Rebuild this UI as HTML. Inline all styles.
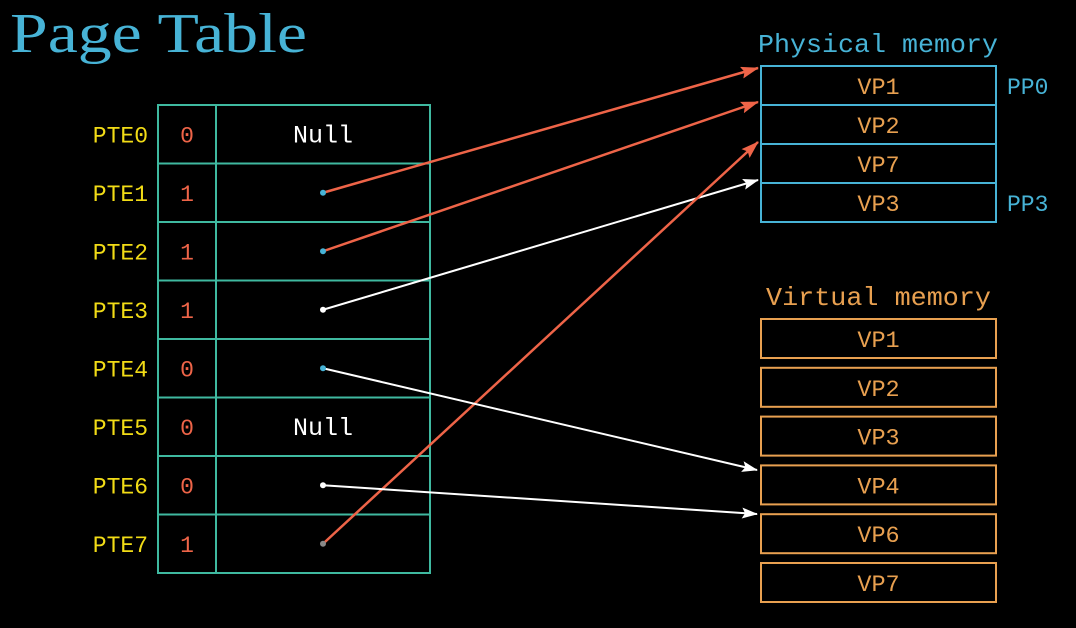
<!DOCTYPE html>
<html><head><meta charset="utf-8"><style>
html,body{margin:0;padding:0;background:#000;width:1076px;height:628px;overflow:hidden}
svg text{font-family:"Liberation Mono",monospace}
</style></head><body>
<svg id="s" width="1076" height="628" viewBox="0 0 1076 628">
<defs>
<marker id="ar" markerWidth="18" markerHeight="12" refX="17" refY="6" orient="auto" markerUnits="userSpaceOnUse" viewBox="0 0 18 12"><path d="M0,0 L18,6 L0,12 L3,6 Z" fill="#ee6448"/></marker>
<marker id="aw" markerWidth="16" markerHeight="11" refX="15" refY="5.5" orient="auto" markerUnits="userSpaceOnUse" viewBox="0 0 16 11"><path d="M0,0 L16,5.5 L0,11 L3,5.5 Z" fill="#fff"/></marker>
</defs>
<text x="10" y="52" font-size="56" fill="#47b3d6" textLength="297" lengthAdjust="spacingAndGlyphs" style="font-family:'Liberation Serif',serif">Page Table</text>
<g id="tbl"></g>
<g id="phys"></g>
<g id="virt"></g>
<g id="arrows"></g>
</svg>
<script>
const pteLabels=["PTE0","PTE1","PTE2","PTE3","PTE4","PTE5","PTE6","PTE7"];
const validBits=[0,1,1,1,0,0,0,1];
const nullRows=[0,5];
const physPages=["VP1","VP2","VP7","VP3"];
const virtPages=["VP1","VP2","VP3","VP4","VP6","VP7"];
const physTargets=[[1,0],[2,1],[3,3],[7,2]];
const virtTargets=[[4,3],[6,4]];
const NS="http://www.w3.org/2000/svg";
function mk(p,t,a,txt){const e=document.createElementNS(NS,t);for(const k in a)e.setAttribute(k,a[k]);if(txt!==undefined)e.textContent=txt;p.appendChild(e);return e;}
const T=document.getElementById('tbl'),P=document.getElementById('phys'),V=document.getElementById('virt'),A=document.getElementById('arrows');
const tx0=158,tx1=216,tx2=430,ty0=105,rh=58.5;
const rowY=i=>ty0+i*rh;
const teal="#3fb9a0";
mk(T,'rect',{x:tx0,y:ty0,width:tx2-tx0,height:rh*8,fill:'none',stroke:teal,'stroke-width':2});
mk(T,'line',{x1:tx1,y1:ty0,x2:tx1,y2:ty0+rh*8,stroke:teal,'stroke-width':2});
pteLabels.forEach((l,i)=>{
  const cy=rowY(i)+rh/2;
  if(i>0){mk(T,'line',{x1:tx0,y1:rowY(i),x2:tx2,y2:rowY(i),stroke:teal,'stroke-width':2});}
  const t=mk(T,'text',{x:148,y:cy+8,'font-size':23,fill:'#f2dc16','text-anchor':'end'},l);
  
  
  const b=mk(T,'text',{x:(tx0+tx1)/2,y:cy+8,'font-size':23,fill:'#ee6448','text-anchor':'middle'},String(validBits[i]));
  
  
  if(nullRows.includes(i)){
    const n=mk(T,'text',{x:323,y:cy+8,'font-size':25,fill:'#fff','text-anchor':'middle'},'Null');
    
    
  }
});
const blue="#47b3d6",orange="#e8a050";
const px0=761,pw=235,py0=66,ph=39;
mk(P,'text',{x:758,y:52,'font-size':26,fill:blue,textLength:240,lengthAdjust:'spacingAndGlyphs'},'Physical memory');
physPages.forEach((p,i)=>{
  const r=mk(P,'rect',{x:px0,y:py0+i*ph,width:pw,height:ph,fill:'none',stroke:blue,'stroke-width':2});
  
  
  mk(P,'text',{x:px0+pw/2,y:py0+i*ph+28,'font-size':23.5,fill:orange,'text-anchor':'middle'},p);
});
mk(P,'text',{x:1007,y:94,'font-size':23,fill:blue},'PP0');
mk(P,'text',{x:1007,y:211,'font-size':23,fill:blue},'PP3');
const vy0=319,vstep=48.8,vh=39;
mk(V,'text',{x:766,y:305,'font-size':26,fill:orange,textLength:225,lengthAdjust:'spacingAndGlyphs'},'Virtual memory');
virtPages.forEach((p,i)=>{
  const r=mk(V,'rect',{x:px0,y:vy0+i*vstep,width:pw,height:vh,fill:'none',stroke:orange,'stroke-width':2});
  
  
  mk(V,'text',{x:px0+pw/2,y:vy0+i*vstep+28,'font-size':23.5,fill:orange,'text-anchor':'middle'},p);
});
const dotX=323;
physTargets.forEach(([pte,pi])=>{
  const y=rowY(pte)+rh/2;
  const red=pte!==3;
  const endY=[68,102,142,180][pi];
  const ln=mk(A,'line',{x1:dotX,y1:y,x2:758,y2:endY,stroke:red?'#ee6448':'#fff','stroke-width':red?2.5:2,'marker-end':red?'url(#ar)':'url(#aw)'});
  
  
  mk(A,'circle',{cx:dotX,cy:y,r:3,fill:pte===3?'#fff':(pte===7?'#888':blue)});
});
virtTargets.forEach(([pte,vi])=>{
  const y=rowY(pte)+rh/2;
  const ty=vi===3?470:514;
  const ln=mk(A,'line',{x1:dotX,y1:y,x2:757,y2:ty,stroke:'#fff','stroke-width':2,'marker-end':'url(#aw)'});
  
  
  mk(A,'circle',{cx:dotX,cy:y,r:3,fill:pte===4?blue:'#fff'});
});
</script>
</body></html>
